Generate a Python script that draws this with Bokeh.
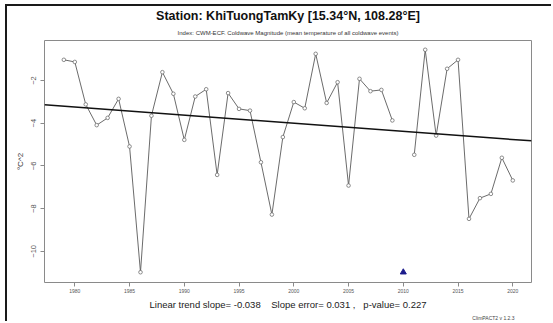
import numpy as np
from bokeh.plotting import figure
from bokeh.models import Range1d, FixedTicker, Title, ColumnDataSource
from bokeh.embed import file_html
from bokeh.resources import INLINE

nan = float("nan")

# Coldwave magnitude (CWM-ECF), yearly values; 2010 is missing
years = list(range(1979, 2021))
cwm = [-1.03, -1.13, -3.12, -4.09, -3.75, -2.86, -5.09, -10.98, -3.65, -1.61,
       -2.62, -4.78, -2.75, -2.41, -6.42, -2.59, -3.33, -3.41, -5.83, -8.28,
       -4.65, -3.01, -3.30, -0.75, -3.05, -2.08, -6.92, -1.92, -2.50, -2.44,
       -3.87, nan, -5.48, -0.56, -4.58, -1.45, -1.03, -8.48, -7.51, -7.31,
       -5.62, -6.68]

trend_slope = -0.038
slope_error = 0.031
p_value = 0.227

x_ticks = [1980, 1985, 1990, 1995, 2000, 2005, 2010, 2015, 2020]
y_ticks = [-10, -8, -6, -4, -2]

FONT = "Liberation Sans"
NBSP = "\u00a0"

yr = np.array(years, dtype=float)
val = np.array(cwm, dtype=float)
ok = ~np.isnan(val)
missing_years = yr[~ok]

# Least-squares line with the reported slope passes through the mean point
x_mean = yr[ok].mean()
y_mean = val[ok].mean()
x0, x1 = 1977.233, 2021.708
trend_x = [x0, x1]
trend_y = [y_mean + trend_slope * (x0 - x_mean), y_mean + trend_slope * (x1 - x_mean)]

p = figure(width=546, height=317, output_backend="svg", toolbar_location=None,
           x_range=Range1d(x0, x1), y_range=Range1d(-11.461, -0.126),
           min_border_left=37, min_border_right=22, min_border_top=34, min_border_bottom=41,
           background_fill_color="white", border_fill_color="white")
# page frame around the figure
p.styles = {"margin-left": "5px", "margin-top": "4px",
            "border-top": "2px solid #1a1a1a", "border-left": "2px solid #1a1a1a"}

p.xgrid.visible = False
p.ygrid.visible = False
p.outline_line_color = "#8a8a8a"
p.outline_line_width = 1

p.xaxis.ticker = FixedTicker(ticks=x_ticks)
p.yaxis.ticker = FixedTicker(ticks=y_ticks)
for ax in (p.xaxis, p.yaxis):
    ax.axis_line_color = None
    ax.major_tick_line_color = "#8a8a8a"
    ax.major_tick_out = 4
    ax.major_tick_in = 0
    ax.minor_tick_line_color = None
    ax.major_label_text_font = FONT
    ax.major_label_text_color = "#555555"
    ax.axis_label_text_font = FONT
    ax.axis_label_text_font_style = "normal"
p.xaxis.major_label_text_font_size = "5px"
p.xaxis.major_label_standoff = 2
p.yaxis.major_label_text_font_size = "7.5px"
p.yaxis.major_label_orientation = "vertical"
p.yaxis.major_label_standoff = 4

p.yaxis.axis_label = "°C^2"
p.yaxis.axis_label_text_font_size = "8px"
p.yaxis.axis_label_text_color = "#333333"
p.yaxis.axis_label_standoff = 4

p.xaxis.axis_label = (f"Linear trend slope= {trend_slope}{NBSP * 4}Slope error= {slope_error} ,"
                      f"{NBSP * 3}p-value= {p_value}")
p.xaxis.axis_label_text_font_size = "9.5px"
p.xaxis.axis_label_text_color = "#222222"
p.xaxis.axis_label_standoff = 3

src = ColumnDataSource(dict(year=years, cwm=cwm))
p.line("year", "cwm", source=src, line_color="#5a5a5a", line_width=0.9)
p.scatter("year", "cwm", source=src, size=3.6, marker="circle",
          fill_color="white", line_color="#707070", line_width=0.8)

p.line(trend_x, trend_y, line_color="#111111", line_width=1.5)

# Missing year marked at the lowest value of the series
p.scatter(list(missing_years), [float(np.nanmin(val))] * len(missing_years),
          marker="triangle", size=6, fill_color="#1c1c8c", line_color="#1c1c8c")

# Titles: the one added later sits further from the plot
p.add_layout(Title(text="Index: CWM-ECF. Coldwave Magnitude (mean temperature of all coldwave events)",
                   align="center", text_font=FONT, text_font_size="6px",
                   text_font_style="normal", text_color="#333333", standoff=10), "above")
p.add_layout(Title(text="Station: KhiTuongTamKy [15.34°N, 108.28°E]",
                   align="center", text_font=FONT, text_font_size="12.5px",
                   text_font_style="bold", text_color="#111111", standoff=0), "above")
p.add_layout(Title(text="ClimPACT2 v 1.2.3", align="right", offset=17,
                   text_font=FONT, text_font_size="5px", text_font_style="normal",
                   text_color="#444444", standoff=0), "below")

open("out.html", "w").write(file_html(p, INLINE))
